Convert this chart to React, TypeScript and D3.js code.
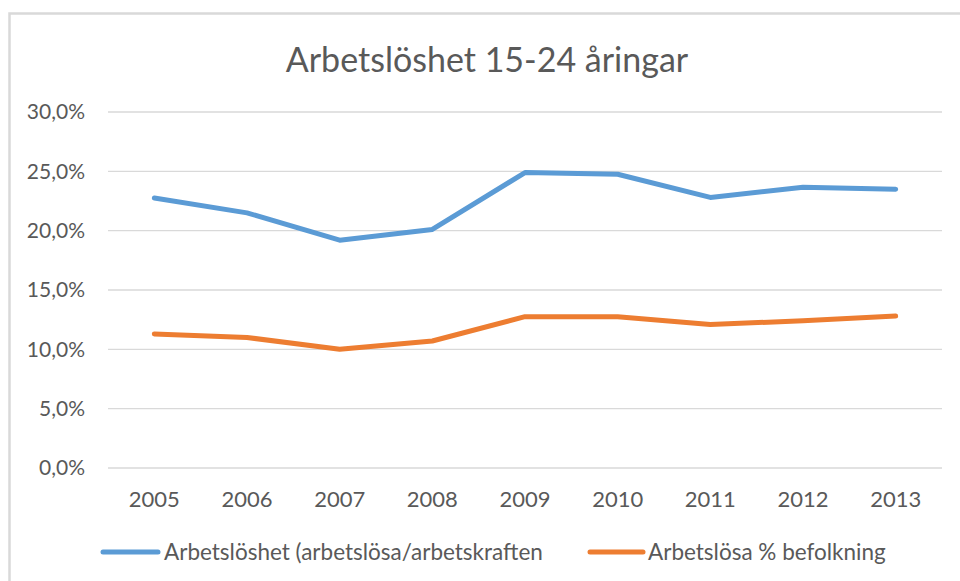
import * as d3 from "d3";

const years = ["2005", "2006", "2007", "2008", "2009", "2010", "2011", "2012", "2013"];
// Arbetslöshet (arbetslösa/arbetskraften)
const arbetskraften = [0.2275, 0.215, 0.192, 0.201, 0.249, 0.2475, 0.228, 0.2365, 0.235];
// Arbetslösa % befolkning
const befolkning = [0.113, 0.11, 0.1, 0.107, 0.1275, 0.1275, 0.121, 0.124, 0.128];
const yTicks = [0, 0.05, 0.1, 0.15, 0.2, 0.25, 0.3];

const seriesNames = ["Arbetslöshet (arbetslösa/arbetskraften", "Arbetslösa % befolkning"];
const seriesColors = ["#5B9BD5", "#ED7D31"];

const W = 960;
const H = 581;
const FONT = "Lato, 'Open Sans', sans-serif";
const TEXT = "#595959";

const sv = d3.formatLocale({ decimal: ",", thousands: " ", grouping: [3], currency: ["", " kr"] });
const pct = sv.format(".1%");

export default function App() {
  const x = d3.scaleBand<string>().domain(years).range([108, 942]);
  const cx = (y: string) => (x(y) ?? 0) + x.bandwidth() / 2;
  const y = d3.scaleLinear().domain([0, 0.3]).range([468, 112]);

  const line = d3
    .line<number>()
    .x((_, i) => cx(years[i]))
    .y((d) => y(d));

  const series = [arbetskraften, befolkning];

  return (
    <svg
      width={W}
      height={H}
      style={{ position: "absolute", left: 0, top: 0, background: "#fff" }}
      fontFamily={FONT}
    >
      {/* chart frame (only left and top edges fall inside the picture) */}
      <path d={`M9.5,${H} V13.5 H${W}`} fill="none" stroke="#D9D9D9" strokeWidth={2.5} />

      <text x={487} y={72} textAnchor="middle" fontSize={34} fill={TEXT}>
        Arbetslöshet 15-24 åringar
      </text>

      {/* gridlines + y labels */}
      {yTicks.map((t) => (
        <g key={t}>
          <line x1={108} x2={942} y1={y(t)} y2={y(t)} stroke="#D9D9D9" strokeWidth={1.3} />
          <text x={85} y={y(t)} dy="0.35em" textAnchor="end" fontSize={21} fill={TEXT}>
            {pct(t)}
          </text>
        </g>
      ))}

      {/* x labels */}
      {years.map((yr) => (
        <text key={yr} x={cx(yr)} y={507} textAnchor="middle" fontSize={22} fill={TEXT}>
          {yr}
        </text>
      ))}

      {series.map((s, i) => (
        <path
          key={i}
          d={line(s) ?? ""}
          fill="none"
          stroke={seriesColors[i]}
          strokeWidth={5}
          strokeLinejoin="round"
          strokeLinecap="round"
        />
      ))}

      {/* legend */}
      {[
        { x0: 103, x1: 158, tx: 164 },
        { x0: 590, x1: 643, tx: 648 },
      ].map((l, i) => (
        <g key={i}>
          <line x1={l.x0} x2={l.x1} y1={552} y2={552} stroke={seriesColors[i]} strokeWidth={5} strokeLinecap="round" />
          <text x={l.tx} y={552} dy="0.35em" fontSize={22.5} fill={TEXT}>
            {seriesNames[i]}
          </text>
        </g>
      ))}
    </svg>
  );
}
